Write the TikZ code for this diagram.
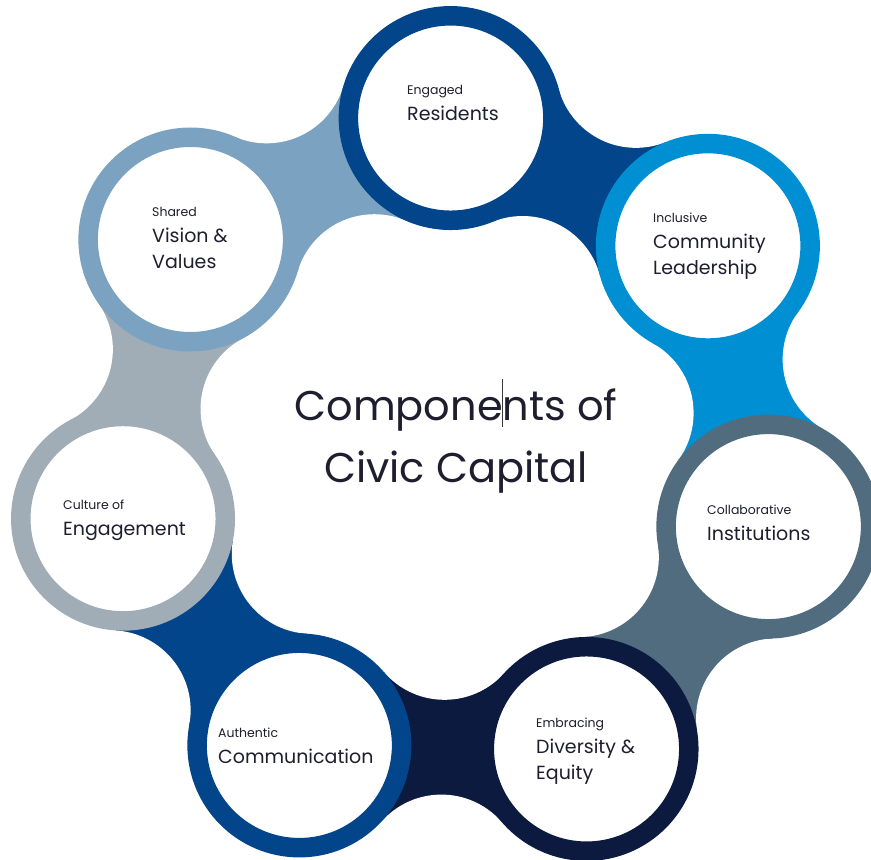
\documentclass[tikz,border=0pt]{standalone}
\usepackage{fontspec}
\setmainfont{Poppins}
\usetikzlibrary{calc}
\definecolor{cRes}{HTML}{02458A}
\definecolor{cInc}{HTML}{008FD3}
\definecolor{cCol}{HTML}{516C7E}
\definecolor{cDiv}{HTML}{0B1A3E}
\definecolor{cAut}{HTML}{02458A}
\definecolor{cCul}{HTML}{A0ADB7}
\definecolor{cSha}{HTML}{7BA3C1}
\definecolor{txtc}{HTML}{1E1E2E}
\definecolor{caretc}{HTML}{3A3A3A}
\newcommand\caretmark{\makebox[0pt]{\textcolor{caretc}{\rule[-7pt]{1.2pt}{48pt}}}}
\newcommand\smalltxt[1]{{\fontsize{12.5}{26}\selectfont #1}}
\begin{document}
\begin{tikzpicture}[x=1pt,y=1pt,
  ringnode/.style={circle, draw=#1, line width=19.5pt, fill=white, minimum size=204.5pt, inner sep=0pt, outer sep=0pt},
  lbl/.style={anchor=base west, align=left, inner sep=0pt, text=txtc, font=\fontsize{19}{26}\selectfont},
  titlenode/.style={anchor=base, align=center, inner sep=0pt, text=txtc, font=\fontsize{41.5}{62}\selectfont}]
\useasboundingbox (0,0) rectangle (871,-860);
\coordinate (O) at (446.6,-449);
\foreach \i/\a in {1/89.3,2/37.871,3/-13.557,4/-64.986,5/-116.414,6/-167.843,7/-219.271}
  \coordinate (c\i) at ($(O)+(\a:331pt)$);
% bands between neighbouring rings
\foreach \i/\j/\col in {1/2/cRes,2/3/cInc,3/4/cCol,4/5/cDiv,5/6/cAut,6/7/cCul,7/1/cSha}{
  \coordinate (fo\i) at ($(c\i)!0.5!(c\j)!127.4pt!90:(c\j)$);
  \coordinate (fi\i) at ($(c\i)!0.5!(c\j)!127.4pt!-90:(c\j)$);
  \fill[\col] (c\i) -- (fo\i) -- (c\j) -- (fi\i) -- cycle;
  \fill[white] (fo\i) circle (80pt);
  \fill[white] (fi\i) circle (80pt);
}
% rings
\node[ringnode=cRes] (r1) at (c1) {};
\node[ringnode=cInc] (r2) at (c2) {};
\node[ringnode=cCol] (r3) at (c3) {};
\node[ringnode=cDiv] (r4) at (c4) {};
\node[ringnode=cAut] (r5) at (c5) {};
\node[ringnode=cCul] (r6) at (c6) {};
\node[ringnode=cSha] (r7) at (c7) {};
% labels (anchored at the baseline of the last line)
\node[lbl] (l1) at (407,-120) {\smalltxt{Engaged}\\Residents};
\node[lbl] (l2) at (653,-274) {\smalltxt{Inclusive}\\Community\\Leadership};
\node[lbl] (l3) at (707,-540) {\smalltxt{Collaborative}\\Institutions};
\node[lbl] (l4) at (536,-779) {\smalltxt{Embracing}\\Diversity \&\\Equity};
\node[lbl] (l5) at (218,-763) {\smalltxt{Authentic}\\Communication};
\node[lbl] (l6) at (63,-535) {\smalltxt{Culture of}\\Engagement};
\node[lbl] (l7) at (152,-268) {\smalltxt{Shared}\\Vision \&\\Values};
% title
\node[titlenode] (title) at (456,-482) {Compone\caretmark nts of\\Civic Capital};
\end{tikzpicture}
\end{document}
